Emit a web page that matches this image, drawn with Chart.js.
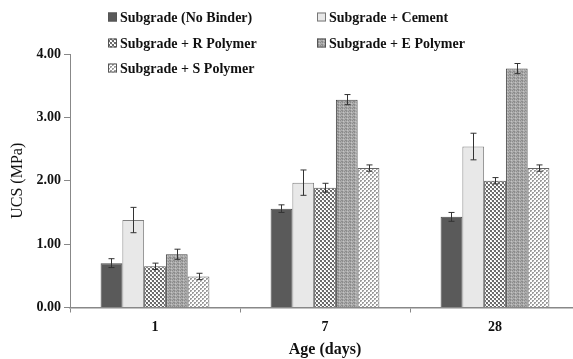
<!DOCTYPE html>
<html>
<head>
<meta charset="utf-8">
<script src="https://cdn.jsdelivr.net/npm/chart.js@4.4.0/dist/chart.umd.min.js"></script>
<style>
  html, body { margin: 0; padding: 0; background: #fff; overflow: hidden; }
  #wrap { position: relative; width: 582px; height: 359px; }
</style>
</head>
<body>
<div id="wrap"><canvas id="c"></canvas></div>
<script>
// ---- data ----
const categories = ['1', '7', '28'];
const seriesNames = ['Subgrade (No Binder)', 'Subgrade + Cement', 'Subgrade + R Polymer', 'Subgrade + E Polymer', 'Subgrade + S Polymer'];
const noBinder = [0.70, 1.56, 1.43];
const cement   = [1.38, 1.97, 2.54];
const rPolymer = [0.65, 1.89, 2.00];
const ePolymer = [0.84, 3.28, 3.77];
const sPolymer = [0.49, 2.20, 2.20];
const noBinderErr = [0.07, 0.06, 0.07];
const cementErr   = [0.20, 0.20, 0.21];
const rPolymerErr = [0.05, 0.07, 0.05];
const ePolymerErr = [0.08, 0.08, 0.08];
const sPolymerErr = [0.05, 0.05, 0.05];
const yTicks = [0, 1, 2, 3, 4];

// ---- patterns ----
function makePattern(w, h, bg, draw) {
  const c = document.createElement('canvas');
  c.width = w; c.height = h;
  const g = c.getContext('2d');
  g.fillStyle = bg; g.fillRect(0, 0, w, h);
  draw(g);
  return document.getElementById('c').getContext('2d').createPattern(c, 'repeat');
}
const patR = makePattern(4, 4, '#ffffff', g => {
  g.fillStyle = '#6a6a6a';
  g.fillRect(0, 0, 2, 2); g.fillRect(2, 2, 2, 2);
  g.fillStyle = '#e0e0e0';
  g.fillRect(3, 0, 1, 1); g.fillRect(1, 2, 1, 1);
});
const patE = makePattern(4, 3, '#ababab', g => {
  g.fillStyle = '#8c8c8c';
  g.fillRect(0, 0, 1, 1); g.fillRect(2, 0, 1, 1);
  g.fillRect(1, 2, 2, 1);
  g.fillStyle = '#c4c4c4';
  g.fillRect(3, 1, 1, 1);
});
const patS = makePattern(4, 4, '#ffffff', g => {
  g.fillStyle = '#9c9c9c';
  g.fillRect(0, 0, 2, 2); g.fillRect(2, 2, 2, 2);
  g.fillStyle = '#d0d0d0';
  g.fillRect(1, 1, 1, 1); g.fillRect(3, 3, 1, 1);
});

const values = [noBinder, cement, rPolymer, ePolymer, sPolymer];
const errors = [noBinderErr, cementErr, rPolymerErr, ePolymerErr, sPolymerErr];
const fills = ['#5a5a5a', '#e8e8e8', patR, patE, patS];
const borders = ['#4a4a4a', '#808080', '#555555', '#444444', '#666666'];

const datasets = seriesNames.map((name, i) => ({
  label: name,
  data: values[i],
  errors: errors[i],
  backgroundColor: fills[i],
  borderColor: borders[i],
  borderWidth: 1,
  categoryPercentage: 0.64,
  barPercentage: 1.0
}));

const errorBars = {
  id: 'errorBars',
  afterDatasetsDraw(chart) {
    const ctx = chart.ctx;
    const ys = chart.scales.y;
    ctx.save();
    ctx.strokeStyle = '#333';
    ctx.lineWidth = 1;
    chart.data.datasets.forEach((ds, di) => {
      const meta = chart.getDatasetMeta(di);
      meta.data.forEach((bar, j) => {
        const v = ds.data[j], e = ds.errors[j];
        const x = Math.round(bar.x) + 0.5;
        const yt = ys.getPixelForValue(v + e), yb = ys.getPixelForValue(v - e);
        ctx.beginPath();
        ctx.moveTo(x, yt); ctx.lineTo(x, yb);
        ctx.moveTo(x - 3, yt); ctx.lineTo(x + 3, yt);
        ctx.moveTo(x - 3, yb); ctx.lineTo(x + 3, yb);
        ctx.stroke();
      });
    });
    ctx.restore();
  }
};

const customLegend = {
  id: 'customLegend',
  afterDraw(chart) {
    const ctx = chart.ctx;
    const cols = [108, 317];
    const rows = [17, 43, 68];
    ctx.save();
    ctx.font = 'bold 14px "Liberation Serif", "Times New Roman", serif';
    ctx.textBaseline = 'middle';
    chart.data.datasets.forEach((ds, i) => {
      const x = cols[i % 2], y = rows[Math.floor(i / 2)];
      ctx.fillStyle = ds.backgroundColor;
      ctx.fillRect(x, y - 4.5, 9, 9);
      ctx.strokeStyle = i === 1 ? '#777' : '#555';
      ctx.lineWidth = 1;
      ctx.strokeRect(x + 0.5, y - 4, 8, 8);
      ctx.fillStyle = '#111';
      ctx.fillText(ds.label, x + 12, y + 1);
    });
    ctx.restore();
  }
};

new Chart(document.getElementById('c'), {
  type: 'bar',
  data: { labels: categories, datasets },
  options: {
    responsive: true,
    maintainAspectRatio: false,
    animation: false,
    layout: { padding: { top: 54, right: 2, left: 0, bottom: 0 } },
    plugins: { legend: { display: false }, tooltip: { enabled: false } },
    scales: {
      x: {
        grid: { display: true, drawOnChartArea: false, drawTicks: true, tickLength: 5, color: '#888', offset: true },
        border: { color: '#888', width: 1.5 },
        ticks: { color: '#111', font: { family: '"Liberation Serif", serif', size: 14, weight: 'bold' }, padding: 6 },
        title: { display: true, text: 'Age (days)', color: '#111', font: { family: '"Liberation Serif", serif', size: 16, weight: 'bold' }, padding: { top: 2, bottom: 0 } },
        afterFit(scale) { scale.height = 51.5; }
      },
      y: {
        min: 0, max: 4,
        afterBuildTicks(scale) { scale.ticks = yTicks.map(v => ({ value: v })); },
        grid: { display: true, drawOnChartArea: false, drawTicks: true, tickLength: 6, color: '#888' },
        border: { color: '#888', width: 1 },
        ticks: { color: '#111', font: { family: '"Liberation Serif", serif', size: 14, weight: 'bold' }, padding: 3, callback: v => Number(v).toFixed(2) },
        title: { display: true, text: 'UCS (MPa)', color: '#111', font: { family: '"Liberation Serif", serif', size: 16, weight: 'normal' }, padding: { top: 8, bottom: 0 } },
        afterFit(scale) { scale.width = 70; }
      }
    }
  },
  plugins: [errorBars, customLegend]
});
</script>
</body>
</html>
